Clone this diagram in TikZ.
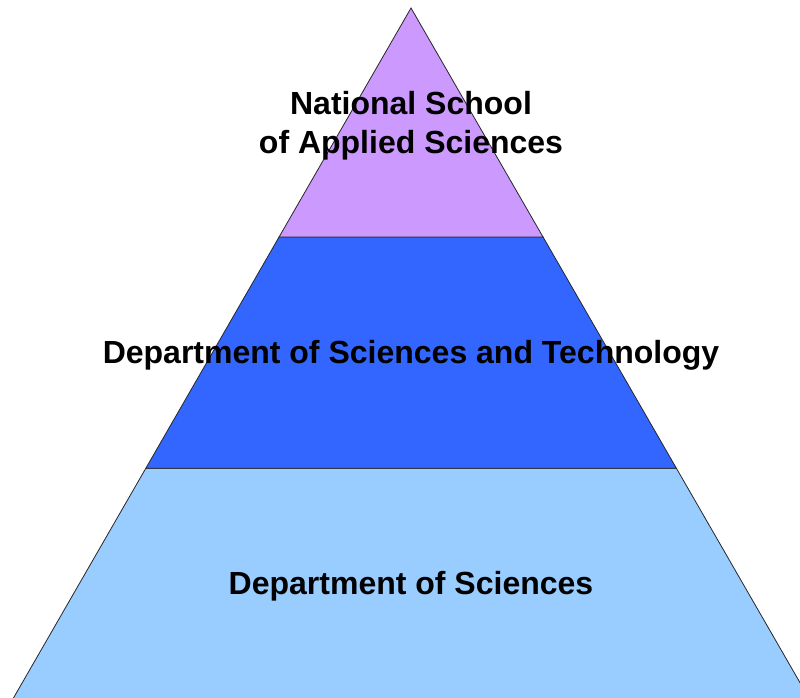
\documentclass[tikz,border=0pt]{standalone}
\usepackage{fontspec}
\setmainfont{Liberation Sans}
\usetikzlibrary{calc}

\definecolor{lilac}{HTML}{CC99FF}
\definecolor{midblue}{HTML}{3366FF}
\definecolor{paleblue}{HTML}{99CCFF}

\tikzset{
  band/.style={draw=black!85, line width=0.8pt, line join=miter},
  label/.style={align=center, font=\bfseries\fontsize{32}{39}\selectfont}
}

\begin{document}
\begin{tikzpicture}[x=1pt,y=-1pt]
\useasboundingbox (0,0) rectangle (800,697);
\clip (0,0) rectangle (800,697);
\coordinate (apex) at (411,8);
\coordinate (bl) at (12.3,700);
\coordinate (br) at (810,700);
\coordinate (ml) at ($(apex)!0.331!(bl)$);
\coordinate (mr) at ($(apex)!0.331!(br)$);
\coordinate (ll) at ($(apex)!0.665!(bl)$);
\coordinate (lr) at ($(apex)!0.665!(br)$);
% three bands
\filldraw[band, fill=paleblue] (ll) -- (lr) -- (br) -- (bl) -- cycle;
\filldraw[band, fill=midblue] (ml) -- (mr) -- (lr) -- (ll) -- cycle;
\filldraw[band, fill=lilac] (apex) -- (mr) -- (ml) -- cycle;
\node[label] (ensa) at (411,126) {National School\\of Applied Sciences};
\node[label] (dst) at (411,355) {Department of Sciences and Technology};
\node[label] (ds) at (411,586) {Department of Sciences};
\end{tikzpicture}
\end{document}
